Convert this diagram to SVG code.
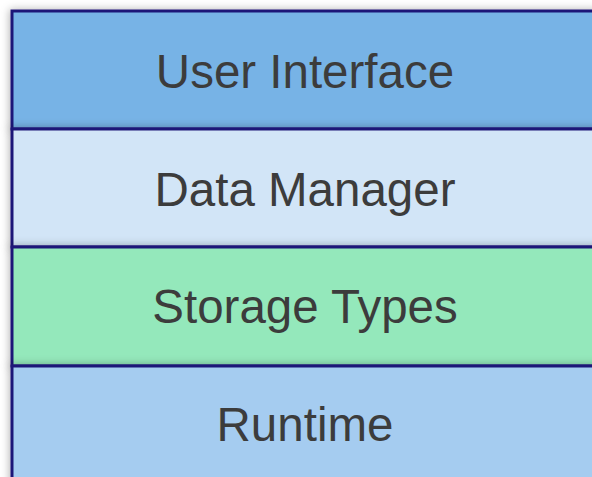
<svg xmlns="http://www.w3.org/2000/svg" width="592" height="477" viewBox="0 0 592 477">
<defs>
<filter id="sh" x="-10%" y="-20%" width="120%" height="140%">
<feDropShadow dx="-1" dy="0" stdDeviation="4" flood-color="#000" flood-opacity="0.3"/>
</filter>
</defs>
<style>
.layer rect{stroke:#1e1978;stroke-width:3;filter:url(#sh)}
.layer text{font-family:"Liberation Sans",Arial,sans-serif;font-size:47.5px;fill:#3c3c3c;text-anchor:middle}
</style>
<rect width="592" height="477" fill="#ffffff"/>
<g id="user-interface" class="layer">
<rect x="12" y="11" width="588" height="118" fill="#77b3e6"/>
<text x="305" y="88">User Interface</text>
</g>
<g id="data-manager" class="layer">
<rect x="12" y="129" width="588" height="118" fill="#d2e5f7"/>
<text x="305" y="205.5">Data Manager</text>
</g>
<g id="storage-types" class="layer">
<rect x="12" y="247" width="588" height="119" fill="#94e8bb"/>
<text x="305" y="323">Storage Types</text>
</g>
<g id="runtime" class="layer">
<rect x="12" y="366" width="588" height="130" fill="#a5ccf0"/>
<text x="305" y="440.5">Runtime</text>
</g>
<g id="connectors"/>
</svg>
